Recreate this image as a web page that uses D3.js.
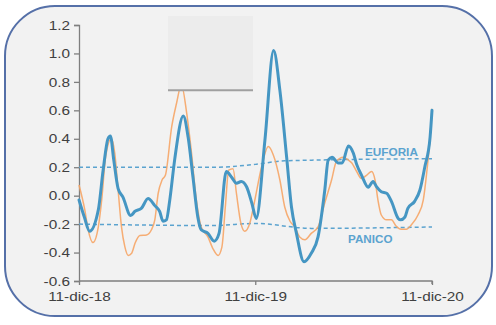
<!DOCTYPE html>
<html>
<head>
<meta charset="utf-8">
<script src="https://cdn.jsdelivr.net/npm/d3@7"></script>
<style>
  html, body { margin: 0; padding: 0; background: #ffffff; }
  svg { display: block; }
  text { font-family: "Liberation Sans", Arial, sans-serif; }
</style>
</head>
<body>
<svg id="chart" width="496" height="325"></svg>
<script>
// Sentiment index: smoothed (blue) and raw (orange), Dec 2018 – Dec 2020
const blueDates = ["2018-12-11","2018-12-22","2019-01-02","2019-01-20","2019-01-30","2019-02-09","2019-02-14","2019-02-21","2019-03-02","2019-03-12","2019-03-28","2019-04-06","2019-04-19","2019-05-03","2019-05-17","2019-05-27","2019-06-03","2019-06-10","2019-06-17","2019-06-27","2019-07-15","2019-07-25","2019-08-04","2019-08-14","2019-08-21","2019-09-04","2019-09-17","2019-09-27","2019-10-12","2019-10-23","2019-11-02","2019-11-12","2019-11-23","2019-12-04","2019-12-13","2019-12-31","2020-01-18","2020-01-31","2020-02-14","2020-02-24","2020-03-05","2020-03-21","2020-04-05","2020-04-19","2020-05-03","2020-05-10","2020-05-18","2020-05-31","2020-06-08","2020-06-21","2020-07-01","2020-07-08","2020-07-18","2020-08-01","2020-08-11","2020-08-18","2020-08-28","2020-09-08","2020-09-18","2020-10-02","2020-10-07","2020-10-16","2020-10-22","2020-11-05","2020-11-16","2020-11-26","2020-12-07","2020-12-11"];
const blueValues = [-0.03,-0.15,-0.25,-0.10,0.18,0.40,0.42,0.25,0.05,-0.01,-0.14,-0.11,-0.09,-0.02,-0.07,-0.11,-0.18,-0.17,-0.03,0.25,0.56,0.41,0.13,-0.15,-0.24,-0.265,-0.32,-0.265,0.17,0.13,0.087,0.10,0.063,-0.053,-0.16,0.39,1.02,0.74,0.27,-0.08,-0.26,-0.465,-0.405,-0.29,0.04,0.25,0.27,0.23,0.23,0.35,0.30,0.22,0.145,0.06,0.10,0.063,0.028,0.017,-0.04,-0.16,-0.17,-0.15,-0.09,-0.04,0.04,0.20,0.41,0.60];

const orangeDates = ["2018-12-11","2018-12-23","2018-12-30","2019-01-09","2019-01-20","2019-01-27","2019-02-04","2019-02-16","2019-02-23","2019-03-02","2019-03-09","2019-03-16","2019-03-23","2019-03-30","2019-04-06","2019-04-16","2019-04-30","2019-05-10","2019-05-17","2019-05-24","2019-06-01","2019-06-08","2019-06-21","2019-07-01","2019-07-11","2019-07-22","2019-08-01","2019-08-11","2019-08-21","2019-09-04","2019-09-14","2019-09-25","2019-10-03","2019-10-10","2019-10-17","2019-10-26","2019-11-02","2019-11-11","2019-11-19","2019-11-30","2019-12-09","2019-12-24","2020-01-07","2020-01-17","2020-01-31","2020-02-10","2020-02-21","2020-03-02","2020-03-12","2020-03-23","2020-04-05","2020-04-19","2020-05-03","2020-05-17","2020-05-27","2020-06-10","2020-06-21","2020-06-28","2020-07-08","2020-07-18","2020-07-29","2020-08-08","2020-08-15","2020-08-21","2020-08-28","2020-09-08","2020-09-18","2020-09-28","2020-10-08","2020-10-19","2020-10-29","2020-11-12","2020-11-23","2020-11-30","2020-12-07","2020-12-11"];
const orangeValues = [0.075,-0.10,-0.24,-0.33,-0.22,-0.03,0.27,0.40,0.30,0.04,-0.22,-0.36,-0.42,-0.405,-0.335,-0.28,-0.276,-0.24,-0.17,0.017,0.11,0.145,0.485,0.65,0.78,0.58,0.30,-0.03,-0.22,-0.29,-0.37,-0.42,-0.36,-0.08,0.18,0.19,0.017,-0.19,-0.25,-0.19,-0.05,0.20,0.345,0.29,0.11,-0.08,-0.18,-0.22,-0.29,-0.31,-0.265,-0.22,-0.05,0.11,0.24,0.27,0.25,0.23,0.17,0.12,0.145,0.17,0.11,-0.03,-0.136,-0.17,-0.17,-0.215,-0.236,-0.236,-0.206,-0.136,-0.03,0.16,0.41,0.61];

// Threshold bands
const euforiaDates = ["2018-12-11","2019-09-17","2019-12-11","2020-02-10","2020-12-11"];
const euforiaValues = [0.20,0.20,0.22,0.245,0.26];
const panicoDates = ["2018-12-11","2019-09-17","2019-12-11","2020-04-05","2020-12-11"];
const panicoValues = [-0.20,-0.21,-0.195,-0.23,-0.22];

const yTicks = [-0.6,-0.4,-0.2,0.0,0.2,0.4,0.6,0.8,1.0,1.2];
const xTickDates = ["2018-12-11","2019-12-11","2020-12-11"];
const xTickLabels = ["11-dic-18","11-dic-19","11-dic-20"];

const parse = d3.timeParse("%Y-%m-%d");
const zip = (ds, vs) => ds.map((d, i) => ({ date: parse(d), value: vs[i] }));

const svg = d3.select("#chart");

// Rounded panel
svg.append("rect")
  .attr("x", 5).attr("y", 6).attr("width", 487).attr("height", 310)
  .attr("rx", 50).attr("ry", 50)
  .attr("fill", "#f2f2f2").attr("stroke", "#5570a8").attr("stroke-width", 2);

const x = d3.scaleTime()
  .domain([parse("2018-12-11"), parse("2020-12-11")])
  .range([79, 432]);
const y = d3.scaleLinear().domain([-0.6, 1.2]).range([281, 25]);

const line = d3.line().x(d => x(d.date)).y(d => y(d.value)).curve(d3.curveMonotoneX);
const straight = d3.line().x(d => x(d.date)).y(d => y(d.value)).curve(d3.curveMonotoneX);

const sx = 1.18; // horizontal stretch of label glyphs

// Y axis
const yAxis = svg.append("g").attr("transform", "translate(79,0)")
  .call(d3.axisLeft(y).tickValues(yTicks).tickSize(5).tickPadding(4).tickFormat(d => d.toFixed(1)));
yAxis.select(".domain").attr("stroke", "#7f7f7f").attr("stroke-width", 1.3);
yAxis.selectAll(".tick line").attr("stroke", "#7f7f7f").attr("stroke-width", 1.3);
yAxis.selectAll(".tick text")
  .attr("font-size", 13).attr("fill", "#404040")
  .attr("x", -9 / sx).attr("transform", `scale(${sx},1)`);

// X axis
const xAxis = svg.append("g").attr("transform", "translate(0,281)")
  .call(d3.axisBottom(x).tickValues(xTickDates.map(parse)).tickSize(4).tickPadding(7)
    .tickFormat((d, i) => xTickLabels[i]));
xAxis.select(".domain").attr("stroke", "#7f7f7f").attr("stroke-width", 1.3)
  .attr("d", `M${x.range()[0]},0H${x.range()[1]}V3`);
xAxis.selectAll(".tick line").attr("stroke", "#7f7f7f").attr("stroke-width", 1.3);
xAxis.selectAll(".tick text")
  .attr("font-size", 13).attr("fill", "#404040")
  .attr("transform", `scale(${sx},1)`);

// Threshold lines
const dash = "4,3";
svg.append("path").datum(zip(euforiaDates, euforiaValues))
  .attr("d", straight).attr("fill", "none")
  .attr("stroke", "#5ba3cf").attr("stroke-width", 1.5).attr("stroke-dasharray", dash);
svg.append("path").datum(zip(panicoDates, panicoValues))
  .attr("d", straight).attr("fill", "none")
  .attr("stroke", "#5ba3cf").attr("stroke-width", 1.5).attr("stroke-dasharray", dash);

// Series
svg.append("path").datum(zip(orangeDates, orangeValues))
  .attr("d", line).attr("fill", "none")
  .attr("stroke", "#f6a566").attr("stroke-width", 1.5).attr("stroke-opacity", 0.9)
  .attr("stroke-linejoin", "round");
svg.append("path").datum(zip(blueDates, blueValues))
  .attr("d", line).attr("fill", "none")
  .attr("stroke", "#4596c3").attr("stroke-width", 3)
  .attr("stroke-linejoin", "round").attr("stroke-linecap", "round");

// Band labels
svg.append("text").text("EUFORIA")
  .attr("x", 365 / 1.07).attr("y", 156).attr("transform", "scale(1.07,1)")
  .attr("font-size", 11).attr("font-weight", "bold").attr("fill", "#5ba3cf");
svg.append("text").text("PANICO")
  .attr("x", 348 / 1.06).attr("y", 243).attr("transform", "scale(1.06,1)")
  .attr("font-size", 11).attr("font-weight", "bold").attr("fill", "#5ba3cf");

// Blank legend panel
svg.append("rect").attr("x", 168).attr("y", 16).attr("width", 85).attr("height", 74)
  .attr("fill", "#ececec");
svg.append("line").attr("x1", 168).attr("x2", 253).attr("y1", 90.3).attr("y2", 90.3)
  .attr("stroke", "#a0a0a0").attr("stroke-width", 2);
</script>
</body>
</html>
